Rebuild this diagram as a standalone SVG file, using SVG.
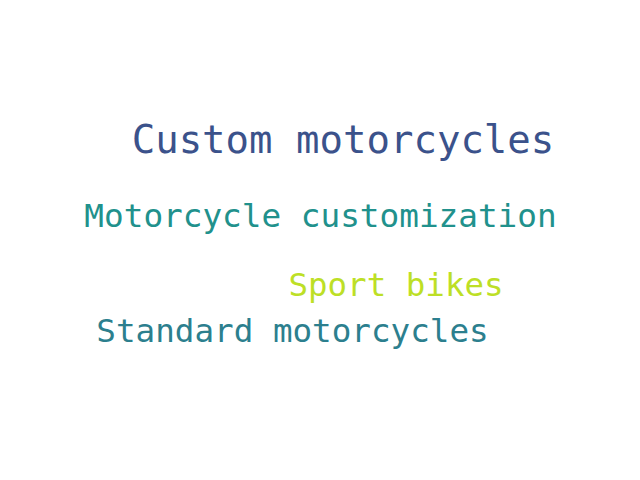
<svg xmlns="http://www.w3.org/2000/svg" width="640" height="480" viewBox="0 0 640 480">
<style>
text{font-family:"DejaVu Sans Mono",monospace;text-anchor:middle}
</style>
<rect width="640" height="480" fill="#ffffff"/>
<g id="w1"><text x="343" y="153" font-size="39" fill="#3b528b">Custom motorcycles</text></g>
<g id="w2"><text x="320.5" y="227" font-size="32.7" fill="#21918c">Motorcycle customization</text></g>
<g id="w3"><text x="396" y="296" font-size="32.5" fill="#bddf26">Sport bikes</text></g>
<g id="w4"><text x="292.5" y="342" font-size="32.6" fill="#2c7f8e">Standard motorcycles</text></g>
</svg>
